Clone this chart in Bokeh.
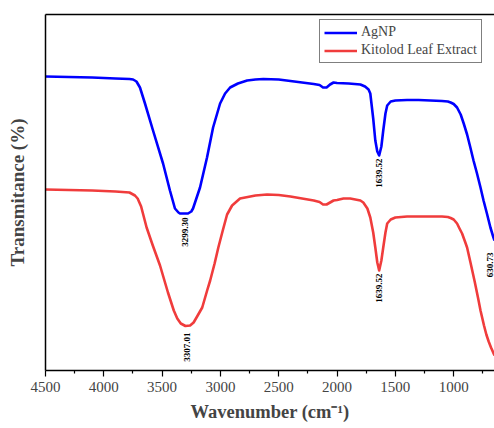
from math import pi
from bokeh.plotting import figure
from bokeh.models import Range1d, LinearAxis, Legend, LegendItem, ColumnDataSource, FixedTicker
from bokeh.core.properties import value
from bokeh.embed import file_html
from bokeh.resources import INLINE

# ---- data ----
agnp_wn = [4500, 4300, 4100, 3900, 3780, 3749, 3720, 3690, 3647, 3578, 3492, 3433, 3390, 3360,
           3347, 3278, 3250, 3235, 3175, 3115, 3063, 3003, 2960, 2917, 2850, 2771, 2700, 2632,
           2500, 2400, 2300, 2200, 2150, 2120, 2090, 2060, 2030, 2000, 1900,
           1800, 1760, 1730, 1715, 1690, 1672, 1655, 1639, 1620, 1604, 1585, 1570, 1540, 1500,
           1400, 1300, 1200, 1100, 1050, 1026, 1000, 971, 940, 914, 885, 857, 830, 800, 770,
           744, 715, 685, 659, 650]
agnp_t = [294, 293.5, 293, 292, 291.5, 291, 289, 283, 267, 240, 207, 180, 162, 158,
          157, 157, 159, 162, 183, 213, 243, 267, 277, 283, 287, 290, 291, 291.5,
          291, 289.5, 288, 286.5, 285.5, 283, 283, 286, 288, 287.5, 287,
          286, 284, 281, 277, 252, 230, 219, 215, 224, 240, 257, 265, 269, 270,
          270.5, 270.5, 270, 269.5, 269, 268, 266.5, 263, 256, 247, 236, 223, 210, 197, 183,
          170, 157, 143, 133, 130]

leaf_wn = [4500, 4300, 4100, 3900, 3780, 3733, 3710, 3680, 3633, 3580, 3518, 3450, 3400, 3370,
           3340, 3300, 3260, 3230, 3200, 3156, 3114, 3088, 3050, 3018, 2980, 2943, 2900, 2832,
           2700, 2600, 2500, 2400, 2300, 2200, 2150, 2120, 2090, 2060, 2030, 2000, 1945, 1887,
           1800, 1775, 1740, 1715, 1690, 1672, 1655, 1639, 1620, 1604, 1585, 1570, 1540, 1500,
           1400, 1300, 1200, 1100, 1050, 1026, 1000, 971, 950, 928, 900, 885, 856, 820, 790,
           770, 740, 720, 700, 680, 650]
leaf_t = [181, 180.5, 180, 179, 178, 175, 172, 164, 143, 125, 105, 78, 60, 52,
          47, 44.5, 45, 48, 54, 63, 80, 90, 107, 123, 140, 156, 165, 172,
          175, 176, 175.5, 174, 172, 170, 168.5, 166, 166, 168, 170, 170.5, 172, 172,
          170, 168, 162, 153, 138, 123, 108, 100, 110, 123, 138, 147, 151, 153,
          154, 154, 154, 154, 153.5, 152.5, 151, 147, 142, 137, 128, 123, 108, 89, 72,
          60, 45, 36, 29, 23, 15]

peak_labels = ["3299.30", "1639.52", "630.73", "3307.01", "1639.52"]
peak_label_wn = [3300, 1639, 692, 3290, 1639]
peak_label_t = [153, 212, 118, 38, 97]

x_ticks = [4500, 4000, 3500, 3000, 2500, 2000, 1500, 1000]
x_minor = [4250, 3750, 3250, 2750, 2250, 1750, 1250, 750]

SERIF = "Liberation Serif"

p = figure(width=494, height=428, output_backend="svg", toolbar_location=None,
           x_range=Range1d(4500, 650), y_range=Range1d(0, 356),
           min_border_left=45, min_border_right=0, min_border_top=14, min_border_bottom=58)
p.outline_line_color = None
p.grid.visible = False
p.background_fill_color = "white"
p.border_fill_color = "white"

# bottom axis
xa = p.xaxis[0]
xa.ticker = FixedTicker(ticks=x_ticks, minor_ticks=x_minor)
xa.axis_label = "Wavenumber (cm\u207b\u00b9)"
xa.axis_label_text_font = SERIF
xa.axis_label_text_font_style = "bold"
xa.axis_label_text_font_size = "18.5px"
xa.axis_label_standoff = 7
xa.major_label_text_font = SERIF
xa.major_label_text_font_size = "15px"
xa.major_label_standoff = 5
xa.axis_line_width = 1.5
xa.major_tick_line_width = 1.2
xa.minor_tick_line_width = 1.2
xa.major_tick_in = 0
xa.major_tick_out = 6
xa.minor_tick_in = 0
xa.minor_tick_out = 3

# left axis
ya = p.yaxis[0]
ya.ticker = FixedTicker(ticks=[])
ya.axis_label = "Transmitance (%)"
ya.axis_label_text_font = SERIF
ya.axis_label_text_font_style = "bold"
ya.axis_label_text_font_size = "19px"
ya.axis_label_standoff = 18
ya.axis_line_width = 1.5

# top border
top = LinearAxis(ticker=FixedTicker(ticks=[]), axis_line_width=1.5)
p.add_layout(top, "above")

src_a = ColumnDataSource(dict(x=agnp_wn, y=agnp_t))
src_l = ColumnDataSource(dict(x=leaf_wn, y=leaf_t))
r_a = p.line("x", "y", source=src_a, line_color="#0000FF", line_width=2.6, line_join="round")
r_l = p.line("x", "y", source=src_l, line_color="#F03C3C", line_width=2.6, line_join="round")

src_lab = ColumnDataSource(dict(x=peak_label_wn, y=peak_label_t, t=peak_labels))
p.text("x", "y", text="t", source=src_lab, angle=pi / 2,
       text_align="right", text_baseline="middle",
       text_font=value(SERIF), text_font_style="bold", text_font_size="9px",
       text_color="black")

legend = Legend(items=[LegendItem(label="AgNP", renderers=[r_a]),
                       LegendItem(label="Kitolod Leaf Extract", renderers=[r_l])],
                location=(274, 307))
legend.border_line_color = "black"
legend.border_line_width = 1
legend.label_text_font = SERIF
legend.label_text_font_size = "14px"
legend.glyph_width = 33
legend.glyph_height = 15
legend.label_height = 15
legend.label_standoff = 4
legend.spacing = 2
legend.padding = 4
legend.margin = 0
legend.background_fill_alpha = 1
p.add_layout(legend, "center")

open("out.html", "w").write(file_html(p, INLINE))
